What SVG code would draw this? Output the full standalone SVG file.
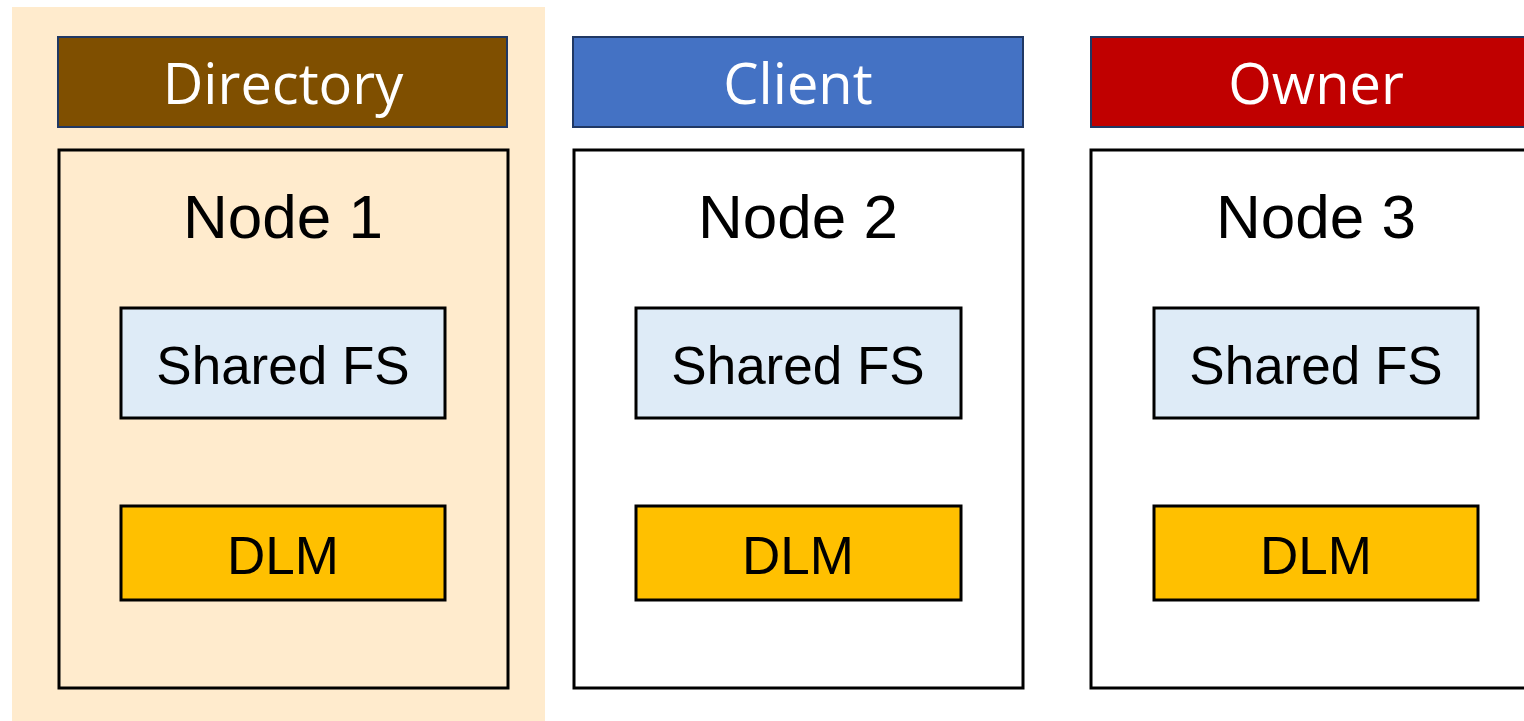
<svg xmlns="http://www.w3.org/2000/svg" width="1524" height="721" viewBox="0 0 1524 721">
  <style>
    .hdr { stroke: #203864; stroke-width: 2; }
    .hdr-text { font-family: "Open Sans", "Noto Sans", sans-serif; font-size: 56px; fill: #ffffff; text-anchor: middle; }
    .node { fill: none; stroke: #000000; stroke-width: 3; }
    .title { font-family: "Liberation Sans", Arial, sans-serif; font-size: 62px; fill: #000000; text-anchor: middle; }
    .fs { fill: #DEEBF7; stroke: #000000; stroke-width: 3; }
    .dlm { fill: #FFC000; stroke: #000000; stroke-width: 3; }
    .lbl { font-family: "Liberation Sans", Arial, sans-serif; font-size: 53px; fill: #000000; text-anchor: middle; }
  </style>

  <rect width="1524" height="721" fill="#ffffff"/>
  <!-- highlight behind the directory node -->
  <rect x="12" y="7" width="533" height="714" fill="#FFEBCD"/>

  <g id="node1">
    <rect class="hdr" x="58" y="37" width="449" height="90" fill="#7F4F00"/>
    <text class="hdr-text" x="283" y="104">Directory</text>
    <rect class="node" x="59" y="150" width="449" height="538"/>
    <text class="title" x="283" y="238">Node 1</text>
    <rect class="fs" x="121" y="308" width="324" height="110"/>
    <text class="lbl" x="283" y="384">Shared FS</text>
    <rect class="dlm" x="121" y="506" width="324" height="94"/>
    <text class="lbl" x="283" y="574">DLM</text>
  </g>

  <g id="node2">
    <rect class="hdr" x="573" y="37" width="450" height="90" fill="#4472C4"/>
    <text class="hdr-text" x="798" y="104">Client</text>
    <rect class="node" x="574" y="150" width="449" height="538"/>
    <text class="title" x="798" y="238">Node 2</text>
    <rect class="fs" x="636" y="308" width="325" height="110"/>
    <text class="lbl" x="798" y="384">Shared FS</text>
    <rect class="dlm" x="636" y="506" width="325" height="94"/>
    <text class="lbl" x="798" y="574">DLM</text>
  </g>

  <g id="node3">
    <rect class="hdr" x="1091" y="37" width="450" height="90" fill="#C00000"/>
    <text class="hdr-text" x="1316" y="104">Owner</text>
    <rect class="node" x="1091" y="150" width="449" height="538"/>
    <text class="title" x="1316" y="238">Node 3</text>
    <rect class="fs" x="1154" y="308" width="324" height="110"/>
    <text class="lbl" x="1316" y="384">Shared FS</text>
    <rect class="dlm" x="1154" y="506" width="324" height="94"/>
    <text class="lbl" x="1316" y="574">DLM</text>
  </g>

  <g id="connectors"/>
</svg>
